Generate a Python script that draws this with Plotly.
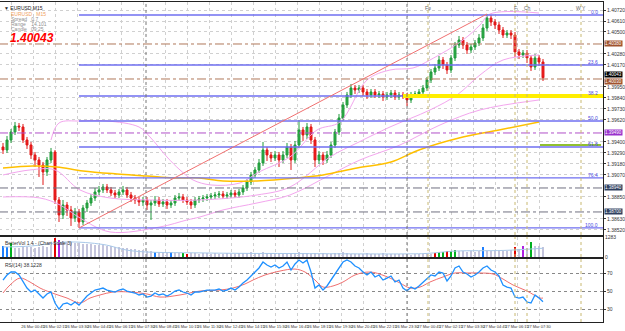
import plotly.graph_objects as go
from plotly.subplots import make_subplots

# ---------------- data ----------------
opens = [1.3935,1.3932,1.3942,1.3950,1.3956,1.3955,1.3942,1.3937,1.3927,1.3922,
 1.3917,1.3910,1.3922,1.3930,1.3882,1.3867,1.3877,1.3872,1.3864,1.3870,
 1.3860,1.3874,1.3879,1.3884,1.3890,1.3892,1.3895,1.3892,1.3889,1.3887,
 1.3890,1.3892,1.3887,1.3884,1.3882,1.3880,1.3882,1.3877,1.3879,1.3882,
 1.3878,1.3880,1.3877,1.3879,1.3884,1.3885,1.3882,1.3880,1.3877,1.3882,
 1.3883,1.3884,1.3885,1.3886,1.3887,1.3888,1.3886,1.3887,1.3889,1.3887,
 1.3890,1.3894,1.3900,1.3907,1.3912,1.3919,1.3932,1.3927,1.3924,1.3927,
 1.3922,1.3927,1.3935,1.3922,1.3937,1.3952,1.3947,1.3955,1.3942,1.3922,
 1.3927,1.3922,1.3927,1.3937,1.3950,1.3964,1.3977,1.3987,1.3994,1.3992,
 1.3994,1.3990,1.3987,1.3990,1.3987,1.3988,1.3985,1.3987,1.3989,1.3985,
 1.3987,1.3986,1.3982,1.3987,1.3988,1.3990,1.3994,1.4002,1.4010,1.4014,
 1.4022,1.4017,1.4012,1.4024,1.4037,1.4042,1.4037,1.4032,1.4035,1.4039,
 1.4044,1.4054,1.4064,1.4060,1.4057,1.4052,1.4047,1.4049,1.4047,1.4030,
 1.4027,1.4029,1.4024,1.4015,1.4024,1.4020]
highs = [1.3939,1.3946,1.3953,1.3960,1.3959,1.3958,1.3945,1.3940,1.3930,1.3925,
 1.3920,1.3925,1.3934,1.3932,1.3885,1.3882,1.3880,1.3876,1.3874,1.3873,
 1.3877,1.3882,1.3888,1.3894,1.3896,1.3898,1.3898,1.3895,1.3892,1.3893,
 1.3896,1.3895,1.3890,1.3887,1.3885,1.3885,1.3885,1.3882,1.3886,1.3885,
 1.3883,1.3883,1.3882,1.3887,1.3889,1.3888,1.3885,1.3883,1.3885,1.3886,
 1.3887,1.3888,1.3889,1.3890,1.3891,1.3891,1.3890,1.3892,1.3892,1.3893,
 1.3897,1.3903,1.3910,1.3915,1.3923,1.3940,1.3935,1.3930,1.3931,1.3930,
 1.3931,1.3939,1.3938,1.3941,1.3962,1.3955,1.3959,1.3958,1.3945,1.3931,
 1.3930,1.3931,1.3940,1.3953,1.3968,1.3980,1.3990,1.3998,1.3997,1.3997,
 1.3997,1.3993,1.3993,1.3993,1.3991,1.3991,1.3990,1.3992,1.3992,1.3990,
 1.3990,1.3989,1.3990,1.3991,1.3993,1.3997,1.4005,1.4013,1.4018,1.4026,
 1.4025,1.4020,1.4027,1.4040,1.4046,1.4045,1.4040,1.4038,1.4042,1.4048,
 1.4058,1.4068,1.4067,1.4063,1.4060,1.4055,1.4052,1.4052,1.4050,1.4033,
 1.4032,1.4032,1.4027,1.4028,1.4027,1.4023]
lows = [1.3928,1.3929,1.3939,1.3947,1.3951,1.3939,1.3933,1.3923,1.3915,1.3905,
 1.3897,1.3906,1.3919,1.3878,1.3860,1.3863,1.3866,1.3856,1.3860,1.3854,
 1.3857,1.3870,1.3876,1.3881,1.3887,1.3889,1.3889,1.3886,1.3884,1.3884,
 1.3887,1.3884,1.3880,1.3878,1.3876,1.3876,1.3872,1.3862,1.3876,1.3875,
 1.3875,1.3873,1.3874,1.3876,1.3881,1.3879,1.3877,1.3873,1.3874,1.3879,
 1.3880,1.3881,1.3882,1.3883,1.3884,1.3883,1.3883,1.3884,1.3884,1.3884,
 1.3887,1.3891,1.3897,1.3904,1.3909,1.3916,1.3921,1.3920,1.3921,1.3915,
 1.3919,1.3924,1.3912,1.3919,1.3934,1.3941,1.3943,1.3938,1.3915,1.3918,
 1.3917,1.3919,1.3924,1.3934,1.3947,1.3961,1.3974,1.3984,1.3988,1.3989,
 1.3986,1.3983,1.3984,1.3984,1.3984,1.3981,1.3982,1.3984,1.3982,1.3982,
 1.3983,1.3976,1.3979,1.3984,1.3985,1.3987,1.3991,1.3999,1.4007,1.4011,
 1.4013,1.4008,1.4009,1.4021,1.4034,1.4033,1.4028,1.4029,1.4032,1.4036,
 1.4041,1.4051,1.4056,1.4053,1.4048,1.4044,1.4044,1.4043,1.4025,1.4023,
 1.4024,1.4019,1.4011,1.4012,1.4016,1.4001]
closes = [1.3932,1.3942,1.3950,1.3956,1.3955,1.3942,1.3937,1.3927,1.3922,1.3917,
 1.3910,1.3922,1.3930,1.3882,1.3867,1.3877,1.3872,1.3864,1.3870,1.3860,
 1.3874,1.3879,1.3884,1.3890,1.3892,1.3895,1.3892,1.3889,1.3887,1.3890,
 1.3892,1.3887,1.3884,1.3882,1.3880,1.3882,1.3877,1.3879,1.3882,1.3878,
 1.3880,1.3877,1.3879,1.3884,1.3885,1.3882,1.3880,1.3877,1.3882,1.3883,
 1.3884,1.3885,1.3886,1.3887,1.3888,1.3886,1.3887,1.3889,1.3887,1.3890,
 1.3894,1.3900,1.3907,1.3912,1.3919,1.3932,1.3927,1.3924,1.3927,1.3922,
 1.3927,1.3935,1.3922,1.3937,1.3952,1.3947,1.3955,1.3942,1.3922,1.3927,
 1.3922,1.3927,1.3937,1.3950,1.3964,1.3977,1.3987,1.3994,1.3992,1.3994,
 1.3990,1.3987,1.3990,1.3987,1.3988,1.3985,1.3987,1.3989,1.3985,1.3987,
 1.3986,1.3982,1.3987,1.3988,1.3990,1.3994,1.4002,1.4010,1.4014,1.4022,
 1.4017,1.4012,1.4024,1.4037,1.4042,1.4037,1.4032,1.4035,1.4039,1.4044,
 1.4054,1.4064,1.4060,1.4057,1.4052,1.4047,1.4049,1.4047,1.4030,1.4027,
 1.4029,1.4024,1.4015,1.4024,1.4020,1.40043]
bars = list(range(len(closes)))

# tick volume and Better-Volume class per bar (n normal, b blue, g green, r red, p purple)
volume = [704,640,896,576,576,640,640,640,576,640,
 704,640,768,1216,1088,1024,960,960,896,896,
 832,832,832,768,768,768,704,704,640,640,
 576,576,512,512,448,448,384,384,320,320,
 320,256,320,256,256,256,192,256,256,192,
 256,256,192,256,192,192,256,192,192,256,
 256,256,320,256,256,320,256,256,192,256,
 256,192,256,256,320,256,256,192,256,192,
 256,192,192,256,256,320,256,192,192,192,
 192,256,192,192,192,256,192,192,192,192,
 192,192,128,192,192,192,192,192,256,320,
 320,384,384,448,384,384,320,384,320,384,
 640,384,384,448,384,384,384,448,640,512,
 704,576,960,704,704,640]
vol_class = ("bbgnnnnnnn" "nnnrpnnnnn" "nnnnnnnnnn" "nnnnnnnnbn" "nnbnngrnnn"
             "nnnnnnnnnn" "nnnnnnnnnn" "nnnnnnnnnn" "nnnnnnnnnn" "nnnnnnnnnn"
             "nnnnnnnnrg" "grggnnnnnn" "bnnnnnnnrn" "pngnnn")
vol_ma_bar = [0, 7, 16, 25, 32, 50, 75, 100, 106, 113, 125, 135]
vol_ma_val = [640, 700, 960, 800, 400, 260, 220, 200, 230, 380, 420, 560]
vol_axis_max = 1283

rsi = [62.2,67.8,71.1,71.1,67.8,60.0,53.3,48.9,51.1,46.7,
 42.2,46.7,48.9,36.7,30.0,35.6,36.7,34.4,37.8,34.4,
 40.0,44.4,47.8,51.1,52.2,53.3,51.1,50.0,48.9,51.1,
 52.2,50.0,48.9,47.8,45.6,46.7,43.3,44.4,47.8,45.6,
 46.7,44.4,46.7,50.0,51.1,48.9,47.8,45.6,48.9,48.9,
 50.0,51.1,51.1,51.1,52.2,50.0,51.1,53.3,51.1,54.4,
 58.9,62.2,66.7,71.1,75.6,82.2,78.9,76.7,78.9,75.6,
 77.8,82.2,73.3,80.0,84.4,81.1,84.4,71.1,53.3,56.7,
 51.1,55.6,62.2,68.9,75.6,82.2,84.4,82.2,77.8,75.6,
 71.1,67.8,71.1,65.6,67.8,62.2,64.4,66.7,60.0,62.2,
 53.3,50.0,54.4,52.2,55.6,60.0,64.4,67.8,66.7,71.1,
 70.0,61.1,66.7,75.6,77.8,71.1,68.9,65.6,67.8,71.1,
 75.6,77.8,73.3,71.1,66.7,56.7,54.4,53.3,43.3,42.2,
 43.3,37.8,36.7,45.6,42.2,38.12]
rsi_sig_bar = [0,1.75,4.25,6.75,9.25,13,16,19.25,21.75,24.25,27.5,31.75,36,39.25,44.25,49.25,
 54.25,57.5,60.5,62.5,65.5,69.25,73,75.5,78,80,82.5,85,88,91.75,95.5,99.25,101.75,104.25,
 106.75,110,113,116,119.25,122.5,125,127.5,131,134.25,135]
rsi_sig_val = [47.8,56.7,64.4,60.0,53.3,46.7,42.2,36.7,42.2,45.6,48.9,48.9,46.7,43.3,45.6,50.0,
 51.1,53.3,57.8,62.2,67.8,72.2,74.4,71.1,62.2,54.4,55.6,60.0,67.8,71.1,66.7,58.9,53.3,54.4,
 60.0,65.6,70.0,70.0,70.0,68.9,63.3,56.7,50.0,42.2,42.2]
rsi_levels = [70, 50, 30]

# slow moving average (orange)
ma_bar = [0, 7.5, 13.5, 20, 28.5, 36, 42.5, 49, 55, 63.5, 73.5, 80, 88.5, 97, 104, 114, 124, 134]
ma_val = [1.3914,1.3916,1.3915,1.3911,1.3908,1.3906,1.3904,1.3904,1.3901,1.3901,1.3904,
          1.3907,1.3914,1.3920,1.3932,1.3944,1.3952,1.3960]

# band lines (pink)
band_up_bar = [12, 14, 19.25, 26, 34, 36.75, 41, 44.25, 47.5, 52, 59.25, 64, 71.75, 78.5, 84.25,
               91, 96.75, 102.5, 106.75, 115, 119.25, 121.75, 134]
band_up_val = [1.3942,1.3959,1.3961,1.3961,1.3955,1.3945,1.3925,1.3912,1.3902,1.3897,1.3899,
               1.3910,1.3925,1.3952,1.3960,1.4002,1.4012,1.4014,1.4022,1.4042,1.4057,1.4068,1.4069]
band_mid_bar = [0, 6.75, 13, 19.25, 26.75, 36.75, 49.25, 63.5, 71.75, 81.75, 88.5, 96.75, 106.75,
                113.5, 119.25, 125, 134]
band_mid_val = [1.3907,1.3912,1.3912,1.3892,1.3884,1.3882,1.3882,1.3887,1.3895,1.3925,1.3939,
                1.3955,1.3972,1.3987,1.4007,1.4022,1.4027]
band_lo_bar = [0, 9.25, 14.25, 19.25, 26.75, 39.25, 46, 49.25, 55, 63.5, 71.75, 81.75, 89.25,
               99.25, 109.25, 119.25, 134]
band_lo_val = [1.3885,1.3884,1.3877,1.3864,1.3850,1.3855,1.3862,1.3865,1.3872,1.3879,1.3887,
               1.3907,1.3922,1.3937,1.3957,1.3972,1.3982]

# Fibonacci retracement from swing low (bar 19) to swing high (bar 121)
fib_start_bar = 19
fib_prices = [1.4067, 1.4017, 1.3986, 1.3961, 1.3935, 1.3904, 1.3854]
fib_names = ["0.0", "23.6", "38.2", "50.0", "61.8", "76.4", "100.0"]

# trend line
trend_bars = [19, 121]
trend_prices = [1.3854, 1.4068]

# horizontal level lines
levels_brown = [1.4038, 1.4003]
level_purple = 1.3949
levels_dark = [1.3894, 1.3870]
level_yellow = (100, 1.3986)
level_green = (134.25, 1.3937)

# event (vertical) markers
event_bars_gray = [35.75, 101]
event_bars_olive = [106.25, 128, 131, 144.5]
event_names = ["Fo", "F", "Ch", "W Y"]

# time axis
tick_bars = [2.0, 7.5, 13.0, 18.5, 24.0, 29.5, 35.0, 40.5, 46.0, 51.5, 57.0, 62.5, 68.0, 73.5,
             79.0, 84.5, 90.0, 95.5, 101.0, 106.5, 112.0, 117.5, 123.0, 128.5, 134.0]
tick_text = ["25 Mar 2013", "26 Mar 00:45", "26 Mar 02:15", "26 Mar 03:30", "26 Mar 04:45",
             "26 Mar 06:15", "26 Mar 07:30", "26 Mar 08:45", "26 Mar 10:15", "26 Mar 11:30",
             "26 Mar 12:45", "26 Mar 14:15", "26 Mar 15:30", "26 Mar 16:45", "26 Mar 18:15",
             "26 Mar 19:30", "26 Mar 20:45", "26 Mar 22:15", "26 Mar 23:30", "27 Mar 00:45",
             "27 Mar 02:15", "27 Mar 03:30", "27 Mar 04:45", "27 Mar 06:15", "27 Mar 07:30"]

last_price = 1.40043

# ---------------- figure ----------------
FONT = "Liberation Sans, Arial, sans-serif"
fig = make_subplots(rows=3, cols=1, shared_xaxes=True, vertical_spacing=0.006)

fig.add_trace(go.Candlestick(x=bars, open=opens, high=highs, low=lows, close=closes,
                             increasing=dict(line=dict(color="#1f9a3a", width=1), fillcolor="#2fae4a"),
                             decreasing=dict(line=dict(color="#e01818", width=1), fillcolor="#ee1c1c"),
                             whiskerwidth=0, showlegend=False, hoverinfo="skip"), row=1, col=1)

for bx, by in [(band_up_bar, band_up_val), (band_mid_bar, band_mid_val), (band_lo_bar, band_lo_val)]:
    fig.add_trace(go.Scatter(x=bx, y=by, mode="lines", line=dict(color="#f3a6ee", width=1, shape="spline"),
                             showlegend=False, hoverinfo="skip"), row=1, col=1)
fig.add_trace(go.Scatter(x=ma_bar, y=ma_val, mode="lines", line=dict(color="#ffc000", width=1.5, shape="spline"),
                         showlegend=False, hoverinfo="skip"), row=1, col=1)

xend = 150
# Fibonacci levels
for p, nm in zip(fib_prices, fib_names):
    fig.add_shape(type="line", x0=fib_start_bar, x1=xend, y0=p, y1=p, xref="x", yref="y",
                  line=dict(color="#6f6ff0", width=1.3))
    fig.add_annotation(x=149.3, y=p, xref="x", yref="y", text=nm, showarrow=False, xanchor="right",
                       yanchor="bottom", yshift=-2, font=dict(size=5, color="#4a4ae0", family=FONT))
# other levels
for p in levels_brown:
    fig.add_shape(type="line", x0=-1, x1=xend, y0=p, y1=p, xref="x", yref="y",
                  line=dict(color="#b0785a", width=1, dash="dashdot"))
fig.add_shape(type="line", x0=-1, x1=xend, y0=level_purple, y1=level_purple, xref="x", yref="y",
              line=dict(color="#b050c8", width=1, dash="dashdot"))
for p in levels_dark:
    fig.add_shape(type="line", x0=-1, x1=xend, y0=p, y1=p, xref="x", yref="y",
                  line=dict(color="#707080", width=1, dash="dashdot"))
fig.add_shape(type="line", x0=level_yellow[0], x1=xend, y0=level_yellow[1], y1=level_yellow[1],
              xref="x", yref="y", line=dict(color="#ffee00", width=4))
fig.add_shape(type="line", x0=level_green[0], x1=149.5, y0=level_green[1], y1=level_green[1],
              xref="x", yref="y", line=dict(color="#90c030", width=2))
# trend line
fig.add_shape(type="line", x0=trend_bars[0], x1=trend_bars[1], y0=trend_prices[0], y1=trend_prices[1],
              xref="x", yref="y", line=dict(color="#f07070", width=1))

# vertical event lines across all panels
for b in event_bars_gray:
    for xr, yr in [("x", "y domain"), ("x2", "y2 domain"), ("x3", "y3 domain")]:
        fig.add_shape(type="line", x0=b, x1=b, y0=0, y1=1, xref=xr, yref=yr,
                      line=dict(color="#777777", width=1, dash="dot"))
for b in event_bars_olive:
    for xr, yr in [("x", "y domain"), ("x2", "y2 domain"), ("x3", "y3 domain")]:
        fig.add_shape(type="line", x0=b, x1=b, y0=0, y1=1, xref=xr, yref=yr,
                      line=dict(color="#c8b870", width=1, dash="dot"))
for b, nm in zip(event_bars_olive, event_names):
    fig.add_annotation(x=b, y=1, xref="x", yref="y domain", text=nm, showarrow=False, yanchor="top",
                       yshift=-1, font=dict(size=5, color="#666666", family=FONT))

# volume
vcol = {"n": "#c4c4dc", "b": "#1e7fff", "g": "#00b020", "r": "#e00000", "p": "#b020e0"}
fig.add_trace(go.Bar(x=bars, y=volume, marker=dict(color=[vcol[c] for c in vol_class], line=dict(width=0)),
                     width=0.45, showlegend=False, hoverinfo="skip"), row=2, col=1)
fig.add_trace(go.Scatter(x=vol_ma_bar, y=vol_ma_val, mode="lines",
                         line=dict(color="#a8c8e8", width=1, shape="spline"),
                         showlegend=False, hoverinfo="skip"), row=2, col=1)

# RSI
fig.add_trace(go.Scatter(x=rsi_sig_bar, y=rsi_sig_val, mode="lines",
                         line=dict(color="#f07070", width=1, shape="spline"),
                         showlegend=False, hoverinfo="skip"), row=3, col=1)
fig.add_trace(go.Scatter(x=bars, y=rsi, mode="lines", line=dict(color="#1e90ff", width=1.3),
                         showlegend=False, hoverinfo="skip"), row=3, col=1)

# axes
grid = dict(showgrid=True, gridcolor="#d0d0d0", griddash="dot", gridwidth=1)
axline = dict(showline=True, linecolor="#222222", linewidth=1, mirror=True)
for r in (1, 2, 3):
    fig.update_xaxes(range=[-0.75, 150], tickvals=tick_bars, ticktext=tick_text, tickangle=0,
                     automargin=False, showticklabels=(r == 3), ticks="", rangeslider=dict(visible=False),
                     tickfont=dict(size=4, color="#333333", family=FONT), **grid, **axline, row=r, col=1)

boxed = [levels_brown[0], levels_brown[1], last_price, level_purple] + levels_dark
y_ticks = [round(1.4072 - 0.0011 * k, 4) for k in range(21)]
y_ticks = [t for t in y_ticks if all(abs(t - b) > 0.0006 for b in boxed)]
fig.update_yaxes(range=[1.3847, 1.4080], side="right", tickvals=y_ticks, tickformat=".5f", automargin=False,
                 tickfont=dict(size=5, color="#333333", family=FONT), ticks="outside", ticklen=2,
                 tickcolor="#333333", **grid, **axline, row=1, col=1)
fig.update_yaxes(range=[0, vol_axis_max], side="right", tickvals=[0, vol_axis_max], ticktext=["0", "1283"],
                 automargin=False, tickfont=dict(size=5, color="#333333", family=FONT), showgrid=False,
                 **axline, row=2, col=1)
fig.update_yaxes(range=[15.6, 85.6], side="right", tickvals=rsi_levels, automargin=False,
                 tickfont=dict(size=5, color="#333333", family=FONT), ticks="outside", ticklen=2,
                 tickcolor="#333333", showgrid=True, gridcolor="#888888", griddash="dot", **axline, row=3, col=1)

fig.update_layout(yaxis=dict(domain=[0.272, 1.0]), yaxis2=dict(domain=[0.203, 0.266]),
                  yaxis3=dict(domain=[0.0, 0.197]))

# right-side price boxes
def price_box(p, bg, yshift=0):
    fig.add_annotation(x=1.0, y=p, xref="paper", yref="y", text=f"{p:.5f}", showarrow=False,
                       xanchor="left", xshift=1, yshift=yshift, bgcolor=bg, borderpad=0,
                       font=dict(size=4.5, color="white", family=FONT))
price_box(levels_brown[0], "#a0522d")
price_box(levels_brown[1], "#a0522d", -3)
price_box(last_price, "#000000", 3)
price_box(level_purple, "#9932cc")
for p in levels_dark:
    price_box(p, "#2f3f5f")

# panel titles
fig.add_annotation(x=0.005, y=1, xref="paper", yref="y2 domain", text="BetterVol 1.4 - (Chart Scale 3)",
                   showarrow=False, xanchor="left", yanchor="top", yshift=-1,
                   font=dict(size=5, color="#333333", family=FONT))
fig.add_annotation(x=0.005, y=1, xref="paper", yref="y3 domain", text="RSI(14) 38.1228",
                   showarrow=False, xanchor="left", yanchor="top", yshift=-1,
                   font=dict(size=5, color="#333333", family=FONT))

# info block top-left
fig.add_annotation(x=0.003, y=1, xref="paper", yref="paper", text="\u25BC EURUSD,M15", showarrow=False,
                   xanchor="left", yanchor="top", yshift=-1, font=dict(size=5, color="#222222", family=FONT))
info = [("EURUSD   M15", "#f0a060", -7), ("Spread   0.7", "#909090", -12),
        ("Range    14.101", "#909090", -17), ("Candle   09:25", "#909090", -22)]
for txt, col, ys in info:
    fig.add_annotation(x=0.015, y=1, xref="paper", yref="paper", text=txt, showarrow=False,
                       xanchor="left", yanchor="top", yshift=ys, font=dict(size=5, color=col, family=FONT))
fig.add_annotation(x=0.013, y=1, xref="paper", yref="paper", text=f"<b><i>{last_price:.5f}</i></b>",
                   showarrow=False, xanchor="left", yanchor="top", yshift=-27,
                   font=dict(size=12, color="#ff0000", family=FONT))

fig.update_layout(width=625, height=331, margin=dict(l=0, r=22, t=2, b=9, autoexpand=False),
                  paper_bgcolor="white", plot_bgcolor="white", showlegend=False,
                  font=dict(family=FONT))
fig.write_html("out.html")
